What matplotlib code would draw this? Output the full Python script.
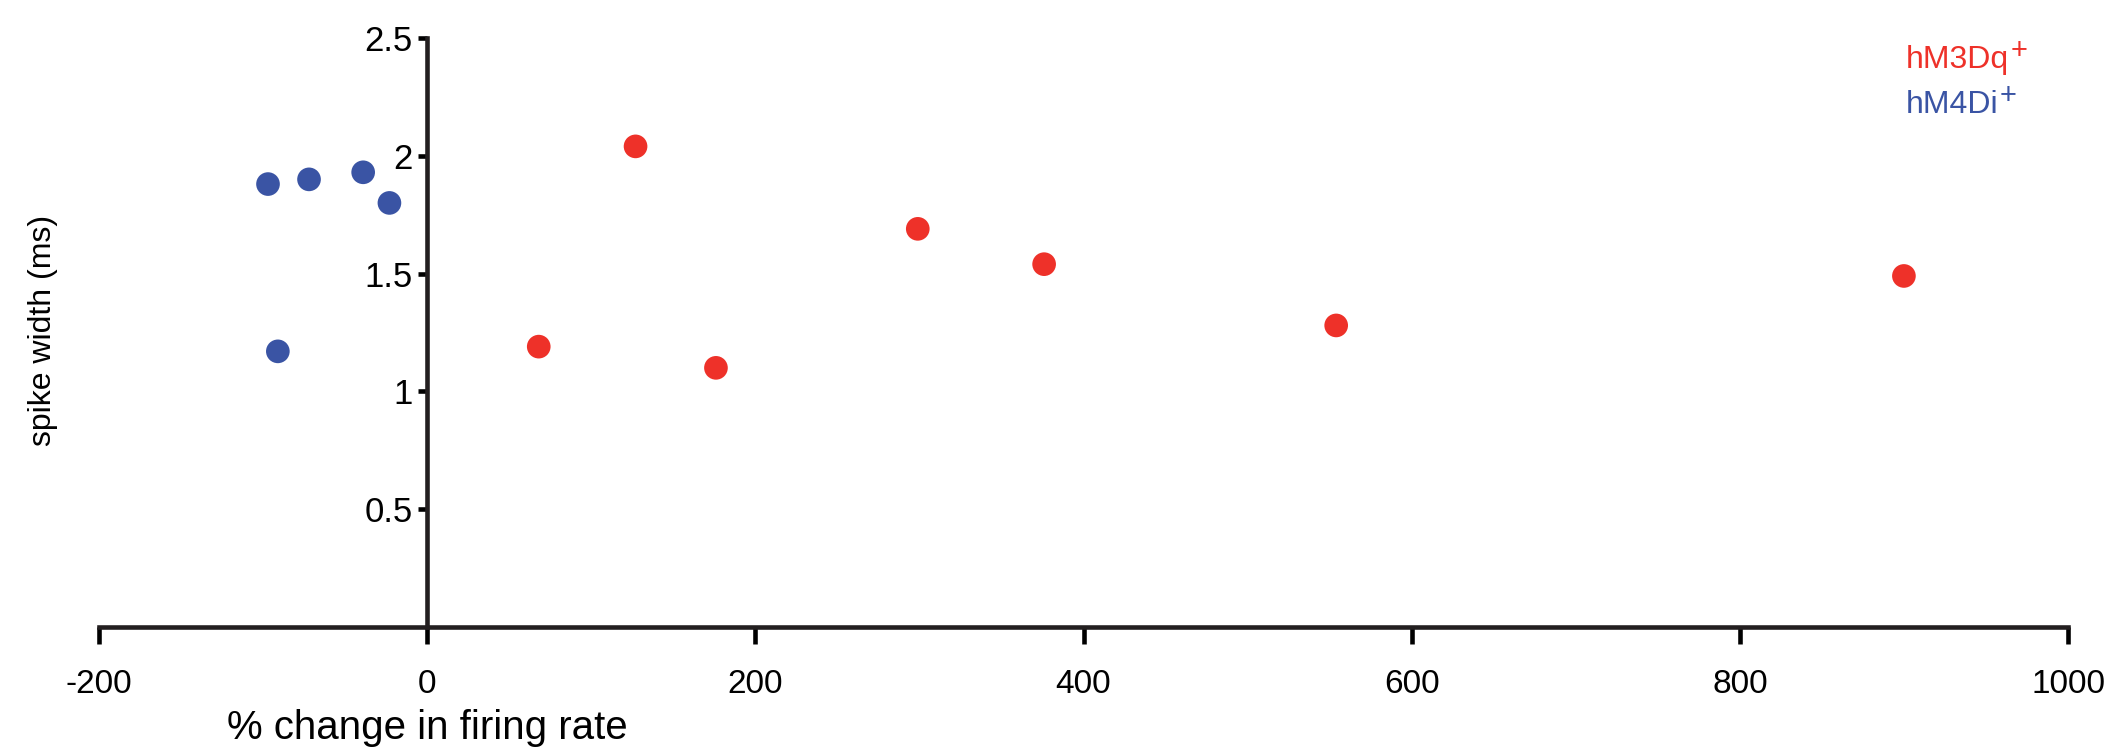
import matplotlib
matplotlib.use("Agg")
import matplotlib.pyplot as plt

# ---- data ----
m3_x = [68, 127, 176, 299, 376, 554, 900]
m3_y = [1.19, 2.04, 1.10, 1.69, 1.54, 1.28, 1.49]
m4_x = [-97, -72, -39, -23, -91]
m4_y = [1.88, 1.90, 1.93, 1.80, 1.17]
x_ticks = [-200, 0, 200, 400, 600, 800, 1000]
y_ticks = [0.5, 1, 1.5, 2, 2.5]
y_ticklabels = ["0.5", "1", "1.5", "2", "2.5"]
series_names = ["hM3Dq", "hM4Di"]
series_sup = ["+", "+"]

RED = "#EE3129"
BLUE = "#3A54A4"

plt.rcParams["font.family"] = ["Liberation Sans", "DejaVu Sans"]

W, H = 2115, 751
fig = plt.figure(figsize=(W / 100, H / 100), dpi=100)
ax = fig.add_axes([99 / W, 1 - 627 / H, (2068 - 99) / W, (627 - 38) / H])

ax.scatter(m3_x, m3_y, s=290, color=RED, edgecolors="none", zorder=3, clip_on=False)
ax.scatter(m4_x, m4_y, s=290, color=BLUE, edgecolors="none", zorder=3, clip_on=False)

ax.set_xlim(-200, 1000)
ax.set_ylim(0, 2.5)

for s in ["top", "right"]:
    ax.spines[s].set_visible(False)
ax.spines["left"].set_position(("data", 0))
ax.spines["bottom"].set_position(("data", 0))
for s in ["left", "bottom"]:
    ax.spines[s].set_linewidth(3.3)
    ax.spines[s].set_color("#231f20")
ax.spines["left"].set_bounds(0, 2.5)

ax.set_xticks(x_ticks)
ax.set_xticklabels([str(v) for v in x_ticks], fontsize=24)
ax.set_yticks(y_ticks)
ax.set_yticklabels(y_ticklabels, fontsize=25)
ax.tick_params(axis="x", direction="out", length=12, width=3.3, pad=18, colors="black")
ax.tick_params(axis="y", direction="out", length=6.5, width=3.3, pad=4, colors="black")

ax.text(0, -0.43, "% change in firing rate", ha="center", va="center", fontsize=29,
        transform=ax.transData)
fig.text(43 / W, 1 - 330 / H, "spike width (ms)", rotation=90, ha="center", va="center",
         fontsize=23)

fig.canvas.draw()
renderer = fig.canvas.get_renderer()
for name, sup, col, base in zip(series_names, series_sup, [RED, BLUE], [68, 113]):
    t = fig.text(1906 / W, 1 - base / H, name, color=col, fontsize=23, va="baseline")
    bb = t.get_window_extent(renderer)
    fig.text((bb.x1 + 1) / W, 1 - (base - 9) / H, sup, color=col, fontsize=21,
             va="baseline", ha="left")

fig.savefig("out.png", dpi=100)
